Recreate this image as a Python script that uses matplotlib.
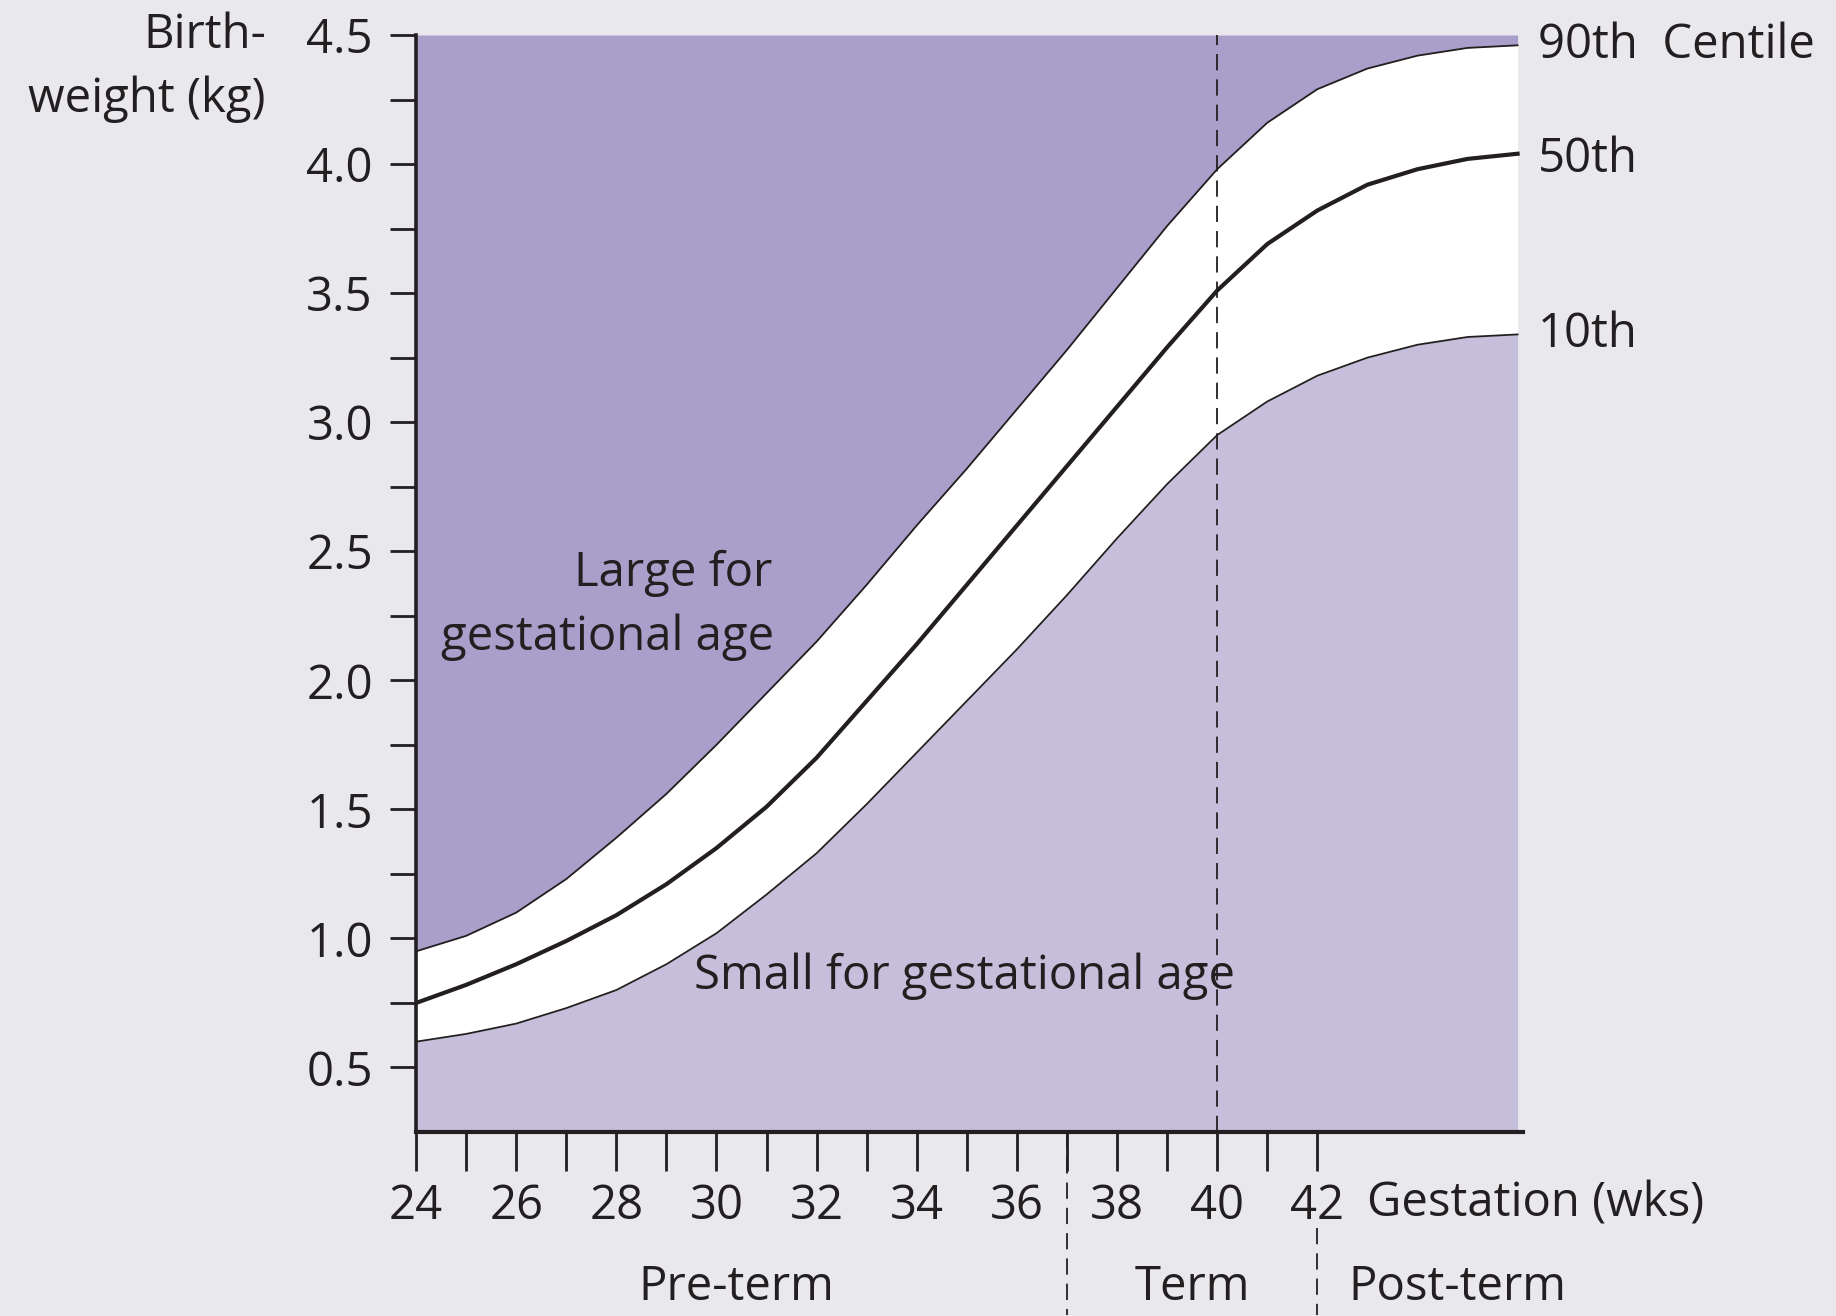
import matplotlib
matplotlib.use("Agg")
import matplotlib.pyplot as plt
import numpy as np

# gestation (weeks) and birthweight centiles (kg)
weeks = [24, 25, 26, 27, 28, 29, 30, 31, 32, 33, 34, 35,
         36, 37, 38, 39, 40, 41, 42, 43, 44, 45, 46]
p90 = [0.95, 1.01, 1.10, 1.23, 1.39, 1.56, 1.75, 1.95, 2.15, 2.37, 2.60, 2.82,
       3.05, 3.28, 3.52, 3.76, 3.98, 4.16, 4.29, 4.37, 4.42, 4.45, 4.46]
p50 = [0.75, 0.82, 0.90, 0.99, 1.09, 1.21, 1.35, 1.51, 1.70, 1.92, 2.14, 2.37,
       2.60, 2.83, 3.06, 3.29, 3.51, 3.69, 3.82, 3.92, 3.98, 4.02, 4.04]
p10 = [0.60, 0.63, 0.67, 0.73, 0.80, 0.90, 1.02, 1.17, 1.33, 1.52, 1.72, 1.92,
       2.12, 2.33, 2.55, 2.76, 2.95, 3.08, 3.18, 3.25, 3.30, 3.33, 3.34]

xtick_labels = [24, 26, 28, 30, 32, 34, 36, 38, 40, 42]
ytick_labels = [0.5, 1.0, 1.5, 2.0, 2.5, 3.0, 3.5, 4.0, 4.5]

page = "#e9e8ec"
dark_purple = "#aa9eca"
light_purple = "#c6bfdb"
ink = "#231f20"

plt.rcParams["font.family"] = ["Open Sans", "DejaVu Sans"]
plt.rcParams["font.size"] = 34

fig = plt.figure(figsize=(18.36, 13.16), dpi=100, facecolor=page)
ax = fig.add_axes([0.2266, 0.1398, 0.6027, 0.8336])
ax.set_facecolor("none")
ax.set_xlim(24, 46.1)
ax.set_ylim(0.25, 4.5)

# shaded regions: above 90th, band, below 10th
ax.fill_between(weeks, p90, 4.5, color=dark_purple, lw=0, zorder=0)
ax.fill_between(weeks, 0.25, p10, color=light_purple, lw=0, zorder=0)
ax.fill_between(weeks, p10, p90, color="white", lw=0, zorder=0)

ax.plot(weeks, p90, color=ink, lw=1.3, solid_joinstyle="round", zorder=3)
ax.plot(weeks, p10, color=ink, lw=1.3, solid_joinstyle="round", zorder=3)
ax.plot(weeks, p50, color=ink, lw=3.0, solid_joinstyle="round", zorder=3)

# term boundaries
ax.plot([40, 40], [0.25, 4.5], color=ink, lw=1.3, dashes=(9, 5), zorder=2)
ax.plot([37, 37], [0.25, -0.46], color=ink, lw=1.3, dashes=(9, 5), clip_on=False)
ax.plot([42, 42], [-0.12, -0.46], color=ink, lw=1.3, dashes=(9, 5), clip_on=False)

# spines
for side in ("top", "right"):
    ax.spines[side].set_visible(False)
ax.spines["left"].set_linewidth(2.6)
ax.spines["bottom"].set_linewidth(3.0)
ax.spines["left"].set_color(ink)
ax.spines["bottom"].set_color(ink)

ax.set_xticks(range(24, 43))
ax.set_xticklabels([str(w) if w in xtick_labels else "" for w in range(24, 43)])
ax.set_yticks(ytick_labels)
ax.set_yticklabels(["%.1f" % v for v in ytick_labels])
ax.set_yticks(np.arange(0.75, 4.5, 0.5), minor=True)
ax.tick_params(axis="x", direction="out", length=28, width=2.0, pad=8, colors=ink)
ax.tick_params(axis="y", which="both", direction="out", length=19, width=2.0, pad=12, colors=ink)

# labels
ax.text(21.0, 4.5, "Birth-", ha="right", va="center", color=ink, clip_on=False)
ax.text(21.0, 4.25, "weight (kg)", ha="right", va="center", color=ink, clip_on=False)
ax.text(46.4, p90[-1], "90th  Centile", ha="left", va="center", color=ink, clip_on=False)
ax.text(46.4, p50[-1] - 0.02, "50th", ha="left", va="center", color=ink, clip_on=False)
ax.text(46.4, p10[-1], "10th", ha="left", va="center", color=ink, clip_on=False)
ax.text(27.16, 2.415, "Large for", ha="left", va="center", color=ink)
ax.text(24.5, 2.167, "gestational age", ha="left", va="center", color=ink)
ax.text(29.56, 0.852, "Small for gestational age", ha="left", va="center", color=ink)
ax.text(43.0, -0.028, "Gestation (wks)", ha="left", va="center", color=ink, clip_on=False)
ax.text(30.4, -0.353, "Pre-term", ha="center", va="center", color=ink, clip_on=False)
ax.text(39.5, -0.353, "Term", ha="center", va="center", color=ink, clip_on=False)
ax.text(42.63, -0.353, "Post-term", ha="left", va="center", color=ink, clip_on=False)

fig.savefig("out.png", dpi=100, facecolor=page)
